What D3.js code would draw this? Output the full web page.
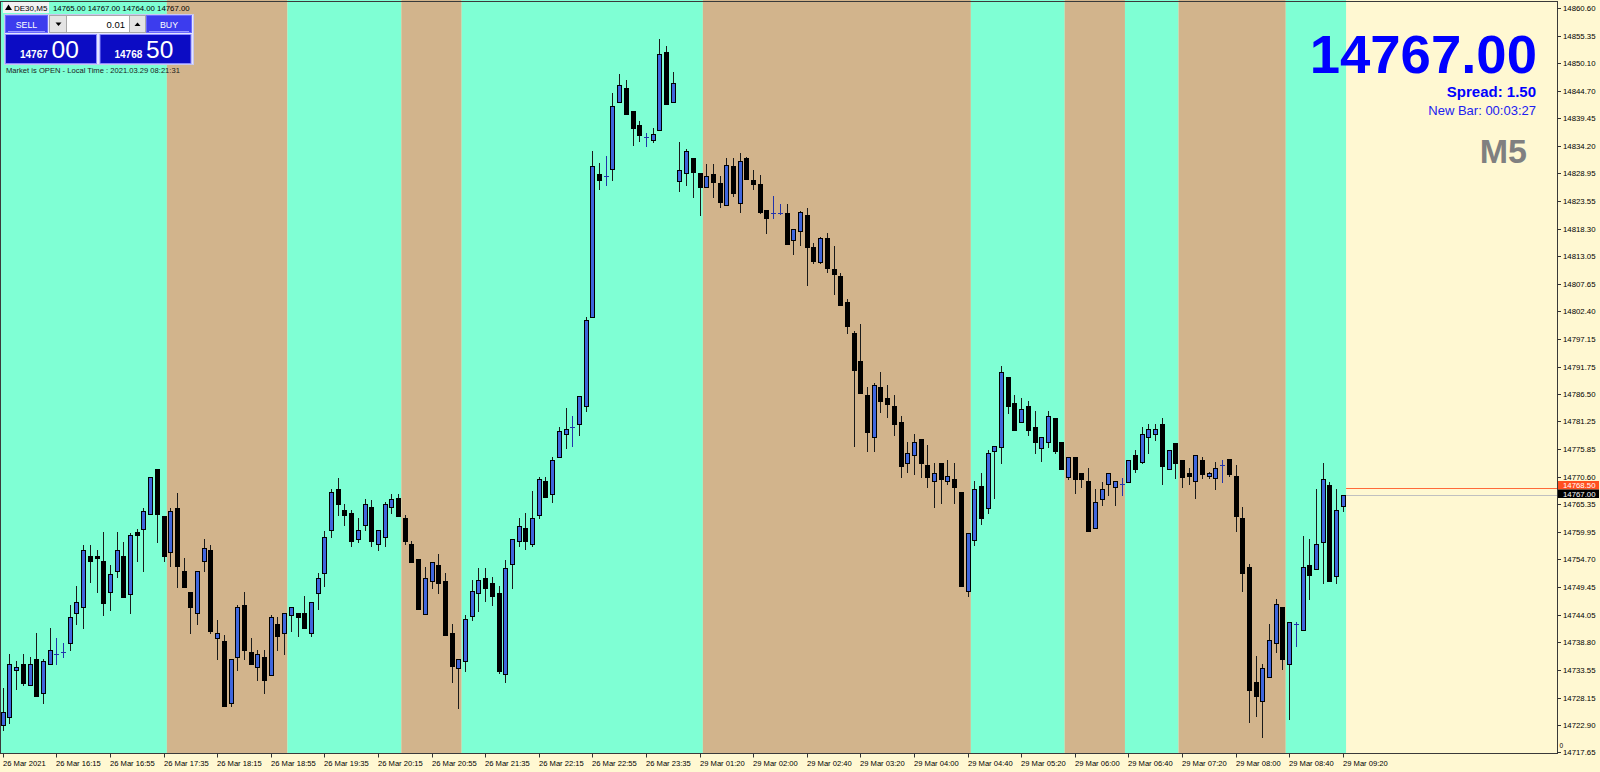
<!DOCTYPE html>
<html><head><meta charset="utf-8">
<script src="https://cdn.jsdelivr.net/npm/d3@7"></script>
<style>
body{margin:0;background:#FFF8D2;overflow:hidden}
svg{display:block}
text{font-family:"Liberation Sans",Arial,sans-serif}
</style>
</head><body>
<svg id="chart" width="1600" height="772"></svg>
<script>
// ---- DATA (DE30, M5) ----
const open = [14722.9,14724.4,14733.4,14734.6,14730.5,14735.5,14729.0,14734.6,14736.5,14737.0,
14738.6,14744.5,14745.5,14755.4,14755.4,14754.5,14748.5,14752.5,14755.4,14748.0,
14760.0,14760.5,14763.5,14772.0,14763.0,14756.1,14764.5,14752.5,14748.5,14744.5,
14754.5,14756.6,14739.6,14739.1,14727.1,14736.0,14745.9,14737.0,14734.0,14736.0,
14732.5,14742.4,14740.5,14744.0,14744.5,14744.5,14740.5,14748.2,14752.2,14760.3,
14768.2,14764.2,14763.7,14758.6,14761.3,14764.7,14757.7,14759.1,14764.7,14766.6,
14762.6,14757.7,14754.7,14744.2,14750.6,14753.6,14750.6,14740.6,14733.8,14735.2,
14743.8,14748.2,14751.2,14750.1,14748.2,14732.7,14753.8,14758.2,14760.8,14757.6,
14763.2,14769.8,14767.2,14774.3,14778.8,14780.2,14780.7,14784.2,14801.3,14828.7,
14828.3,14829.7,14842.7,14845.3,14840.8,14838.2,14835.9,14835.4,14837.2,14852.3,
14842.7,14827.5,14828.9,14831.8,14828.9,14826.3,14828.8,14827.1,14822.8,14830.3,
14823.3,14831.8,14827.6,14826.8,14821.9,14821.2,14821.3,14821.2,14816.0,14817.9,
14820.9,14814.8,14811.9,14816.5,14810.5,14809.2,14804.1,14798.2,14792.8,14786.3,
14778.3,14787.8,14785.7,14784.2,14781.2,14773.3,14774.7,14777.8,14772.8,14769.7,
14773.3,14769.7,14770.2,14767.7,14748.7,14758.4,14768.8,14764.6,14775.6,14776.3,
14789.7,14784.7,14781.1,14784.2,14780.2,14776.2,14777.3,14781.8,14777.3,14770.6,
14774.3,14771.4,14769.8,14760.7,14766.3,14769.3,14768.7,14769.3,14769.6,14774.7,
14773.5,14778.2,14778.8,14780.7,14772.1,14777.1,14773.8,14771.3,14769.7,14773.8,
14770.7,14770.3,14772.8,14774.1,14770.7,14762.7,14753.3,14731.2,14727.6,14732.1,
14738.7,14745.6,14734.7,14742.3,14741.1,14753.6,14752.8,14758.1,14769.1,14751.6,
14765.0];
const high = [14730.1,14736.5,14735.1,14736.5,14736.0,14740.6,14735.5,14741.5,14739.6,14738.6,
14745.9,14749.6,14757.5,14757.5,14756.6,14760.0,14753.6,14760.0,14758.0,14759.7,
14760.5,14764.5,14770.5,14772.0,14763.0,14764.5,14767.5,14754.9,14748.5,14752.5,
14758.6,14757.5,14743.1,14740.1,14735.5,14745.9,14748.5,14739.6,14737.4,14737.4,
14744.0,14743.6,14744.5,14745.6,14744.5,14747.7,14746.5,14752.2,14760.2,14768.2,
14770.3,14765.3,14764.2,14762.6,14766.3,14766.1,14760.3,14765.8,14767.2,14767.2,
14763.2,14758.2,14754.7,14753.2,14754.2,14755.8,14752.2,14742.3,14735.6,14744.1,
14750.7,14753.1,14753.1,14751.3,14749.7,14754.6,14758.6,14762.7,14763.6,14767.8,
14770.6,14770.6,14774.3,14780.2,14783.8,14782.3,14786.2,14801.3,14833.2,14830.8,
14832.2,14844.3,14848.0,14846.8,14840.8,14839.0,14836.7,14837.7,14854.8,14853.3,
14848.4,14834.9,14833.6,14831.8,14828.9,14830.7,14830.7,14828.3,14831.8,14831.8,
14832.9,14832.0,14829.5,14828.6,14821.9,14824.6,14823.1,14823.0,14818.3,14821.7,
14822.2,14815.5,14816.6,14817.5,14814.9,14809.7,14804.7,14798.7,14799.9,14787.8,
14788.7,14790.8,14788.2,14786.3,14782.3,14777.3,14778.8,14777.8,14776.7,14773.3,
14773.3,14773.8,14773.3,14767.7,14759.7,14769.8,14771.3,14775.7,14776.6,14791.9,
14789.7,14786.3,14785.7,14785.2,14783.3,14778.3,14783.3,14781.8,14777.3,14774.4,
14774.3,14771.4,14772.2,14768.2,14769.6,14771.3,14769.8,14770.3,14773.8,14775.7,
14780.2,14780.7,14780.7,14781.8,14775.7,14777.1,14773.8,14772.2,14774.7,14774.3,
14771.6,14773.4,14773.8,14774.1,14772.8,14764.7,14753.8,14736.1,14734.7,14742.3,
14747.2,14745.6,14742.7,14742.7,14759.2,14758.6,14768.2,14773.2,14769.6,14768.2,
14767.0];
const low = [14721.9,14723.3,14729.9,14730.6,14730.5,14728.5,14727.1,14734.6,14734.6,14736.0,
14737.4,14742.4,14741.5,14750.4,14748.5,14744.0,14745.0,14751.3,14747.5,14744.5,
14754.5,14752.5,14763.5,14758.0,14754.5,14753.4,14749.5,14749.5,14740.5,14742.4,
14752.5,14740.5,14735.5,14726.5,14726.5,14733.4,14735.5,14734.6,14731.5,14729.0,
14732.5,14737.4,14736.5,14741.0,14740.0,14741.5,14740.0,14745.1,14749.6,14759.1,
14763.2,14761.3,14757.2,14758.1,14760.3,14757.2,14756.6,14757.2,14763.6,14763.1,
14757.7,14754.2,14745.1,14744.2,14749.2,14748.2,14740.2,14731.2,14726.1,14733.2,
14743.1,14744.8,14746.8,14746.0,14732.9,14731.2,14749.3,14757.2,14756.7,14757.2,
14762.7,14766.7,14765.7,14774.3,14776.1,14776.6,14778.6,14783.2,14801.3,14825.9,
14826.7,14827.7,14842.7,14840.3,14834.3,14835.2,14834.1,14834.9,14837.2,14842.2,
14842.7,14825.6,14826.7,14824.3,14820.9,14826.3,14824.4,14822.5,14822.8,14824.6,
14821.5,14827.9,14825.9,14821.3,14817.4,14820.4,14821.1,14815.3,14813.5,14815.1,
14807.4,14811.7,14811.7,14810.0,14805.7,14803.6,14798.2,14776.6,14786.7,14775.6,
14775.6,14783.1,14782.1,14778.6,14770.6,14771.6,14771.1,14770.6,14768.7,14764.7,
14765.6,14769.3,14765.6,14749.6,14747.7,14757.5,14761.6,14763.6,14766.6,14773.2,
14782.8,14779.6,14781.1,14778.6,14775.2,14773.7,14776.3,14775.2,14772.1,14770.2,
14767.5,14768.7,14760.2,14760.7,14765.2,14767.1,14765.2,14767.1,14769.6,14771.6,
14773.2,14775.1,14777.6,14769.2,14772.1,14770.3,14768.7,14769.2,14766.6,14770.3,
14770.3,14768.2,14769.6,14770.7,14760.2,14748.6,14723.5,14724.7,14720.6,14732.1,
14737.0,14733.7,14724.0,14738.1,14741.1,14747.1,14752.8,14750.1,14750.6,14750.1,
14764.0];
const close = [14725.4,14734.6,14734.0,14731.0,14734.6,14728.5,14735.1,14737.4,14736.5,14737.0,
14743.6,14746.5,14756.6,14754.5,14754.9,14746.4,14752.0,14756.6,14747.5,14759.5,
14759.5,14764.0,14770.5,14763.5,14755.4,14764.0,14753.4,14749.5,14745.5,14752.5,
14757.0,14741.0,14740.5,14726.5,14735.5,14745.6,14737.4,14734.6,14736.5,14731.5,
14743.6,14740.0,14744.5,14745.5,14743.6,14741.5,14746.5,14751.2,14759.1,14767.6,
14765.3,14763.2,14758.2,14760.3,14765.3,14758.2,14760.3,14765.3,14766.3,14763.1,
14758.2,14754.2,14745.1,14751.2,14754.2,14750.1,14740.2,14734.2,14735.6,14743.2,
14748.6,14750.7,14749.2,14747.6,14733.3,14753.1,14758.6,14761.2,14758.2,14762.7,
14770.2,14766.7,14773.8,14779.3,14779.7,14780.2,14786.2,14800.8,14830.3,14827.7,
14828.3,14841.8,14845.8,14840.3,14837.7,14836.2,14835.9,14836.4,14851.8,14842.2,
14846.2,14829.5,14833.2,14829.1,14826.2,14828.4,14827.3,14823.4,14830.5,14825.1,
14831.3,14827.9,14826.9,14821.5,14820.4,14821.2,14821.3,14815.3,14818.3,14821.5,
14814.8,14812.1,14816.4,14810.7,14809.6,14803.6,14799.6,14791.2,14786.7,14779.2,
14788.2,14785.1,14784.6,14780.7,14772.7,14775.2,14777.3,14773.3,14770.6,14771.3,
14770.2,14770.7,14768.7,14749.6,14759.7,14768.2,14762.6,14775.2,14776.6,14790.8,
14784.2,14779.6,14783.7,14779.6,14777.3,14778.3,14782.3,14775.6,14772.1,14774.4,
14770.2,14770.2,14760.2,14765.7,14768.2,14771.3,14769.8,14769.3,14773.8,14772.1,
14778.8,14779.7,14779.7,14772.7,14775.7,14773.3,14770.6,14770.7,14774.7,14771.2,
14771.3,14772.2,14772.8,14771.2,14763.1,14752.2,14729.7,14728.5,14733.8,14739.2,
14746.1,14735.6,14742.7,14742.3,14753.2,14751.7,14757.6,14770.1,14750.6,14764.2,
14767.0];

const timeLabels = ["26 Mar 2021","26 Mar 16:15","26 Mar 16:55","26 Mar 17:35","26 Mar 18:15",
"26 Mar 18:55","26 Mar 19:35","26 Mar 20:15","26 Mar 20:55","26 Mar 21:35","26 Mar 22:15",
"26 Mar 22:55","26 Mar 23:35","29 Mar 01:20","29 Mar 02:00","29 Mar 02:40","29 Mar 03:20",
"29 Mar 04:00","29 Mar 04:40","29 Mar 05:20","29 Mar 06:00","29 Mar 06:40","29 Mar 07:20",
"29 Mar 08:00","29 Mar 08:40","29 Mar 09:20"];
const barsPerLabel = 8;

const priceTicks = [14860.60,14855.35,14850.10,14844.70,14839.45,14834.20,14828.95,14823.55,
14818.30,14813.05,14807.65,14802.40,14797.15,14791.75,14786.50,14781.25,14775.85,14770.60,
14765.35,14759.95,14754.70,14749.45,14744.05,14738.80,14733.55,14728.15,14722.90,14717.65];

// session bands (bar index ranges)
const bandStart = [0,25,43,60,69,105,145,159,168,176,192];
const bandEnd   = [24,42,59,68,104,144,158,167,175,191,200];
const bandKind  = ["A","T","A","T","A","T","A","T","A","T","A"];

const bid = 14767.00, ask = 14768.50;
const barOHLC = "14765.00 14767.00 14764.00 14767.00";

// ---- DRAW ----
const svg = d3.select("#chart");
const W = 1600, H = 772;
const plotR = 1557.5, plotB = 753.5;
const x = d3.scaleLinear().domain([0, 200]).range([2.7, 1342.7]);
const y = d3.scaleLinear().domain([14717.65, 14860.60]).range([752.3, 8.4]);
const half = (x(1) - x(0)) / 2;
const bandColor = {A: "#7FFFD4", T: "#D2B48C"};

svg.append("rect").attr("width", W).attr("height", H).attr("fill", "#FFF8D2");

// bands
svg.append("g").selectAll("rect").data(bandStart).join("rect")
  .attr("x", (s) => Math.max(0, x(s) - half))
  .attr("y", 0)
  .attr("width", (s, i) => x(bandEnd[i]) + half - Math.max(0, x(s) - half))
  .attr("height", plotB)
  .attr("fill", (s, i) => bandColor[bandKind[i]]);

// bid / ask lines
svg.append("line").attr("x1", x(200) + half).attr("x2", plotR)
  .attr("y1", Math.round(y(ask)) + 0.5).attr("y2", Math.round(y(ask)) + 0.5)
  .attr("stroke", "#FF6A3A").attr("stroke-width", 1);
svg.append("line").attr("x1", x(200) + half).attr("x2", plotR)
  .attr("y1", Math.round(y(bid)) + 0.5).attr("y2", Math.round(y(bid)) + 0.5)
  .attr("stroke", "#C0C0C0").attr("stroke-width", 1);

// candles
const cg = svg.append("g");
const bullFill = "#3F66DD", bearFill = "#000000", dojiCol = "#2233AA";
d3.range(open.length).forEach((i) => {
  const cx = Math.round(x(i));
  const o = open[i], c = close[i];
  const doji = Math.abs(o - c) < 0.05;
  const yh = Math.round(y(high[i])), yl = Math.round(y(low[i]));
  cg.append("line").attr("x1", cx + 0.5).attr("x2", cx + 0.5)
    .attr("y1", yh).attr("y2", yl + 1)
    .attr("stroke", doji ? dojiCol : "#1a1a1a").attr("stroke-width", 1);
  if (doji) {
    const yo = Math.round(y(o)) + 0.5;
    cg.append("line").attr("x1", cx - 2).attr("x2", cx + 3)
      .attr("y1", yo).attr("y2", yo).attr("stroke", dojiCol).attr("stroke-width", 1);
  } else {
    const yt = Math.round(y(Math.max(o, c))), yb = Math.round(y(Math.min(o, c)));
    cg.append("rect").attr("x", cx - 1.5).attr("y", yt + 0.5)
      .attr("width", 4).attr("height", Math.max(1, yb - yt))
      .attr("fill", c > o ? bullFill : bearFill)
      .attr("stroke", "#000").attr("stroke-width", 1);
  }
});

// frame
svg.append("rect").attr("x", 0.5).attr("y", 1.5).attr("width", plotR - 0.5).attr("height", plotB - 1.5)
  .attr("fill", "none").attr("stroke", "#3a3a3a").attr("stroke-width", 1);

// right price axis
const ya = svg.append("g");
priceTicks.forEach((p) => {
  const yy = Math.round(y(p)) + 0.5;
  ya.append("line").attr("x1", plotR).attr("x2", plotR + 3.5).attr("y1", yy).attr("y2", yy)
    .attr("stroke", "#333");
  ya.append("text").attr("x", 1563).attr("y", yy + 2.8).attr("font-size", 7.8)
    .attr("fill", "#000").text(p.toFixed(2));
});
svg.append("text").attr("x", 1559.5).attr("y", 748).attr("font-size", 6.5).attr("fill", "#000").text("0");

// price tags
svg.append("rect").attr("x", 1558).attr("y", 481).attr("width", 41).attr("height", 8.5).attr("fill", "#FF5020");
svg.append("text").attr("x", 1563).attr("y", 488).attr("font-size", 7.8).attr("fill", "#fff").text(ask.toFixed(2));
svg.append("rect").attr("x", 1558).attr("y", 489.5).attr("width", 41).attr("height", 8.5).attr("fill", "#000");
svg.append("text").attr("x", 1563).attr("y", 496.5).attr("font-size", 7.8).attr("fill", "#fff").text(bid.toFixed(2));

// time axis
const xa = svg.append("g");
timeLabels.forEach((t, k) => {
  const xx = Math.round(x(k * barsPerLabel)) + 0.5;
  xa.append("line").attr("x1", xx).attr("x2", xx).attr("y1", plotB).attr("y2", plotB + 4)
    .attr("stroke", "#333");
  xa.append("text").attr("x", xx - 0.5).attr("y", 766).attr("font-size", 7.6).attr("fill", "#000").text(t);
});

// ---- top-left trade panel ----
const tp = svg.append("g");
tp.append("rect").attr("x", 3).attr("y", 2).attr("width", 46).attr("height", 11).attr("fill", "#F2F2F2");
tp.append("path").attr("d", "M5,10 L8.5,4.5 L12,10 Z").attr("fill", "#000");
tp.append("text").attr("x", 14).attr("y", 11).attr("font-size", 8).attr("fill", "#000").text("DE30,M5");
tp.append("text").attr("x", 53).attr("y", 11).attr("font-size", 7.8).attr("fill", "#000").text(barOHLC);

tp.append("rect").attr("x", 4.5).attr("y", 14.5).attr("width", 189).attr("height", 50)
  .attr("fill", "#E6E6FF").attr("stroke", "#C8C8F0");
function btn(x0, w, label) {
  tp.append("rect").attr("x", x0 + 0.5).attr("y", 15.5).attr("width", w).attr("height", 17)
    .attr("fill", "#3C3CEE").attr("stroke", "#6A6AFF");
  tp.append("line").attr("x1", x0 + 3).attr("x2", x0 + w - 2).attr("y1", 31.5).attr("y2", 31.5)
    .attr("stroke", "#9A9AFF");
  tp.append("text").attr("x", x0 + w / 2 + 0.5).attr("y", 28).attr("text-anchor", "middle")
    .attr("font-size", 8.8).attr("fill", "#fff").text(label);
}
btn(5, 42, "SELL");
btn(146, 45, "BUY");
tp.append("rect").attr("x", 49.5).attr("y", 15.5).attr("width", 17).attr("height", 17)
  .attr("fill", "#E4E4E4").attr("stroke", "#A8A8A8");
tp.append("path").attr("d", "M55.5,22.5 L61.5,22.5 L58.5,26 Z").attr("fill", "#000");
tp.append("rect").attr("x", 66.5).attr("y", 15.5).attr("width", 63).attr("height", 17)
  .attr("fill", "#fff").attr("stroke", "#A8A8A8");
tp.append("text").attr("x", 125).attr("y", 28).attr("text-anchor", "end").attr("font-size", 9.5)
  .attr("fill", "#000").text("0.01");
tp.append("rect").attr("x", 129.5).attr("y", 15.5).attr("width", 16).attr("height", 17)
  .attr("fill", "#E4E4E4").attr("stroke", "#A8A8A8");
tp.append("path").attr("d", "M134.5,26 L140.5,26 L137.5,22.5 Z").attr("fill", "#000");

function priceBox(x0, small, big) {
  tp.append("rect").attr("x", x0 + 0.5).attr("y", 34.5).attr("width", 91).attr("height", 29)
    .attr("fill", "#0C0CC4").attr("stroke", "#8A8AFF");
  tp.append("text").attr("x", x0 + 15).attr("y", 57.5).attr("font-size", 10).attr("font-weight", "bold")
    .attr("fill", "#fff").text(small);
  tp.append("text").attr("x", x0 + 46.5).attr("y", 57.5).attr("font-size", 24.5)
    .attr("fill", "#fff").text(big);
}
priceBox(5, "14767", "00");
priceBox(99.5, "14768", "50");
tp.append("text").attr("x", 6).attr("y", 72.5).attr("font-size", 7.6).attr("fill", "#1a1a1a")
  .text("Market is OPEN - Local Time : 2021.03.29 08:21:31");

// ---- top-right info ----
svg.append("text").attr("x", 1537).attr("y", 73).attr("text-anchor", "end")
  .attr("font-size", 54.5).attr("font-weight", "bold").attr("fill", "#0000FF").text(bid.toFixed(2));
svg.append("text").attr("x", 1536).attr("y", 97).attr("text-anchor", "end")
  .attr("font-size", 15).attr("font-weight", "bold").attr("fill", "#0000FF").text("Spread: " + (ask - bid).toFixed(2));
svg.append("text").attr("x", 1536).attr("y", 115).attr("text-anchor", "end")
  .attr("font-size", 13).attr("fill", "#2020F0").text("New Bar: 00:03:27");
svg.append("text").attr("x", 1527).attr("y", 162.5).attr("text-anchor", "end")
  .attr("font-size", 34).attr("font-weight", "bold").attr("fill", "#808080").text("M5");
</script>
</body></html>
